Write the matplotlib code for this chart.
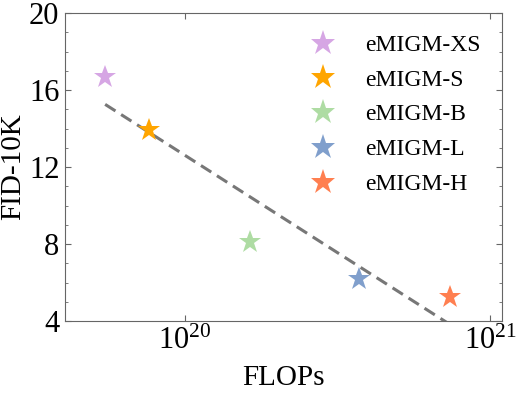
import numpy as np
import matplotlib
matplotlib.use("Agg")
import matplotlib.pyplot as plt
from matplotlib.ticker import MultipleLocator, NullLocator, FixedLocator

models = ["eMIGM-XS", "eMIGM-S", "eMIGM-B", "eMIGM-L", "eMIGM-H"]
flops = [5.47e19, 7.62e19, 1.63e20, 3.73e20, 7.4e20]
fid = [16.69, 13.92, 8.09, 6.18, 5.26]
colors = ["#D6A6E4", "#FFA500", "#AEDCA3", "#809FCC", "#FF7F50"]

plt.rcParams['font.family'] = ['Liberation Serif', 'DejaVu Serif']
plt.rcParams['mathtext.fontset'] = 'stix'

fig = plt.figure(figsize=(5.18, 3.96), dpi=100)
ax = fig.add_axes([65/518, 1-321/396, (502-65)/518, (321-13)/396])

for m, x, y, c in zip(models, flops, fid, colors):
    ax.plot([x], [y], linestyle='none', marker='*', color=c, markersize=17,
            markeredgewidth=0, label=m)

lx = np.log10(flops)
slope, intercept = np.polyfit(lx, fid, 1)
xs = np.array([lx.min(), lx.max()])
ax.plot(10**xs, slope*xs + intercept, linestyle=(0, (4, 2.2)), color="#777777", linewidth=2.2, zorder=1)

ax.set_xscale('log')
ax.set_xlim(4.04e19, 1.094e21)
ax.set_ylim(4, 20)
ax.yaxis.set_major_locator(FixedLocator([4, 8, 12, 16, 20]))
ax.yaxis.set_minor_locator(MultipleLocator(1))
ax.xaxis.set_minor_locator(NullLocator())
ax.tick_params(which='both', direction='in', top=True, right=True, color='#666666')
ax.tick_params(which='major', length=4, labelsize=22, pad=4)
ax.tick_params(which='minor', length=2.5)
for s in ax.spines.values():
    s.set_color('#666666')

ax.set_xlabel("FLOPs", fontsize=21, labelpad=7)
ax.set_ylabel("FID-10K", fontsize=21, labelpad=2)

leg = ax.legend(loc='upper right', frameon=False, fontsize=17, handletextpad=0.8,
          labelspacing=0.56, borderaxespad=0.5, handlelength=2.0, markerscale=1.1)

fig.savefig("out.png", dpi=100)
